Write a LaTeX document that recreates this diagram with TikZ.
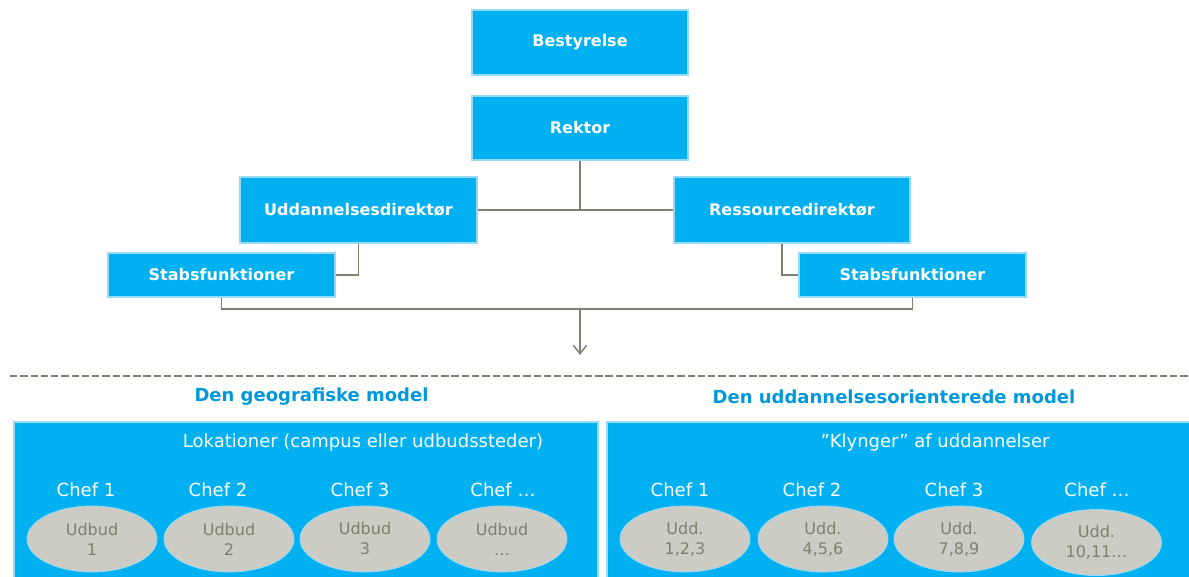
\documentclass[tikz,border=0pt]{standalone}
\usepackage{fontspec}
\setmainfont{DejaVu Sans}
\usetikzlibrary{shapes.geometric,arrows.meta}
\definecolor{boxblue}{RGB}{0,176,240}
\definecolor{boxedge}{RGB}{150,218,246}
\definecolor{conncol}{RGB}{128,128,112}
\definecolor{titleblue}{RGB}{0,152,218}
\definecolor{ovalfill}{RGB}{205,204,196}
\definecolor{ovaltext}{RGB}{128,127,110}
\begin{document}
\begin{tikzpicture}[x=0.75pt,y=-0.75pt,
  orgbox/.style={rectangle,fill=boxblue,draw=boxedge,line width=0.8pt,text=white,
    font=\fontsize{12}{14}\selectfont\bfseries,inner sep=0pt},
  link/.style={draw=conncol,line width=1.1pt},
  panel/.style={rectangle,fill=boxblue,draw=boxedge,line width=0.8pt,inner sep=0pt},
  modeltitle/.style={text=titleblue,font=\fontsize{13.5}{16}\selectfont\bfseries,inner sep=0pt},
  paneltext/.style={text=white,font=\fontsize{13.5}{16}\selectfont,inner sep=0pt},
  oval/.style={ellipse,fill=ovalfill,draw=boxedge,line width=0.6pt,text=ovaltext,
    minimum width=97.5pt,minimum height=49.5pt,inner sep=0pt,align=center,
    font=\fontsize{12}{15}\selectfont}
]
\useasboundingbox (0,0) rectangle (1189,577);
\clip (0,0) rectangle (1189,577);

% top org chart
\node[orgbox,minimum width=162pt,minimum height=48.75pt] (best) at (580,42.5) {Bestyrelse};
\node[orgbox,minimum width=162pt,minimum height=48pt] (rek) at (580,128) {Rektor};
\node[orgbox,minimum width=177.75pt,minimum height=49.5pt] (udd) at (358.5,210) {Uddannelsesdirektør};
\node[orgbox,minimum width=177pt,minimum height=49.5pt] (res) at (792,210) {Ressourcedirektør};
\node[orgbox,minimum width=170.25pt,minimum height=33pt] (stabL) at (221.5,275) {Stabsfunktioner};
\node[orgbox,minimum width=170.25pt,minimum height=33pt] (stabR) at (912.5,275) {Stabsfunktioner};

\draw[link] (udd.east) -- (res.west);
\draw[link] (rek.south) -- (rek.south |- udd.east);
\draw[link] (udd.south) |- (stabL.east);
\draw[link] ([xshift=-7.5pt]res.south) |- (stabR.west);
\coordinate (bus) at (580,309);
\coordinate (arrowend) at (580,355);
\draw[link] (stabL.south) |- (bus) -| (stabR.south);
\draw[link,-{Straight Barb[length=6.5pt,width=10pt]}] (bus) -- (arrowend);

% dashed separator
\coordinate (dashL) at (10,376);
\coordinate (dashR) at (1189,376);
\draw[draw=conncol,line width=2.2pt,dash pattern=on 5.5pt off 2.2pt] (dashL) -- (dashR);

% model titles
\node[modeltitle] (geotitle) at (311.5,397) {Den geografiske model};
\node[modeltitle] (uddtitle) at (894,397) {Den uddannelsesorienterede model};

% panels
\node[panel,minimum width=438pt,minimum height=133.5pt] (geo) at (306,511) {};
\node[panel,minimum width=441pt,minimum height=133.5pt] (klyn) at (901,511) {};

\node[paneltext] (lok) at (363,443) {Lokationer (campus eller udbudssteder)};
\node[paneltext] (kly) at (935,443) {”Klynger” af uddannelser};

% left chefs
\node[paneltext] (gc1) at (86,490) {Chef 1};
\node[paneltext] (gc2) at (218,490) {Chef 2};
\node[paneltext] (gc3) at (360,490) {Chef 3};
\node[paneltext] (gc4) at (503,490) {Chef …};
\node[oval] (gu1) at (92,539) {Udbud\\1};
\node[oval] (gu2) at (229,539) {Udbud\\2};
\node[oval] (gu3) at (365,539) {Udbud\\3};
\node[oval] (gu4) at (502,539) {Udbud\\…};

% right chefs
\node[paneltext] (kc1) at (680,490) {Chef 1};
\node[paneltext] (kc2) at (812,490) {Chef 2};
\node[paneltext] (kc3) at (954,490) {Chef 3};
\node[paneltext] (kc4) at (1097,490) {Chef …};
\node[oval] (ku1) at (685,539) {Udd.\\1,2,3};
\node[oval] (ku2) at (823,539) {Udd.\\4,5,6};
\node[oval] (ku3) at (959,539) {Udd.\\7,8,9};
\node[oval] (ku4) at (1096.5,542.5) {Udd.\\10,11…};
\end{tikzpicture}
\end{document}
